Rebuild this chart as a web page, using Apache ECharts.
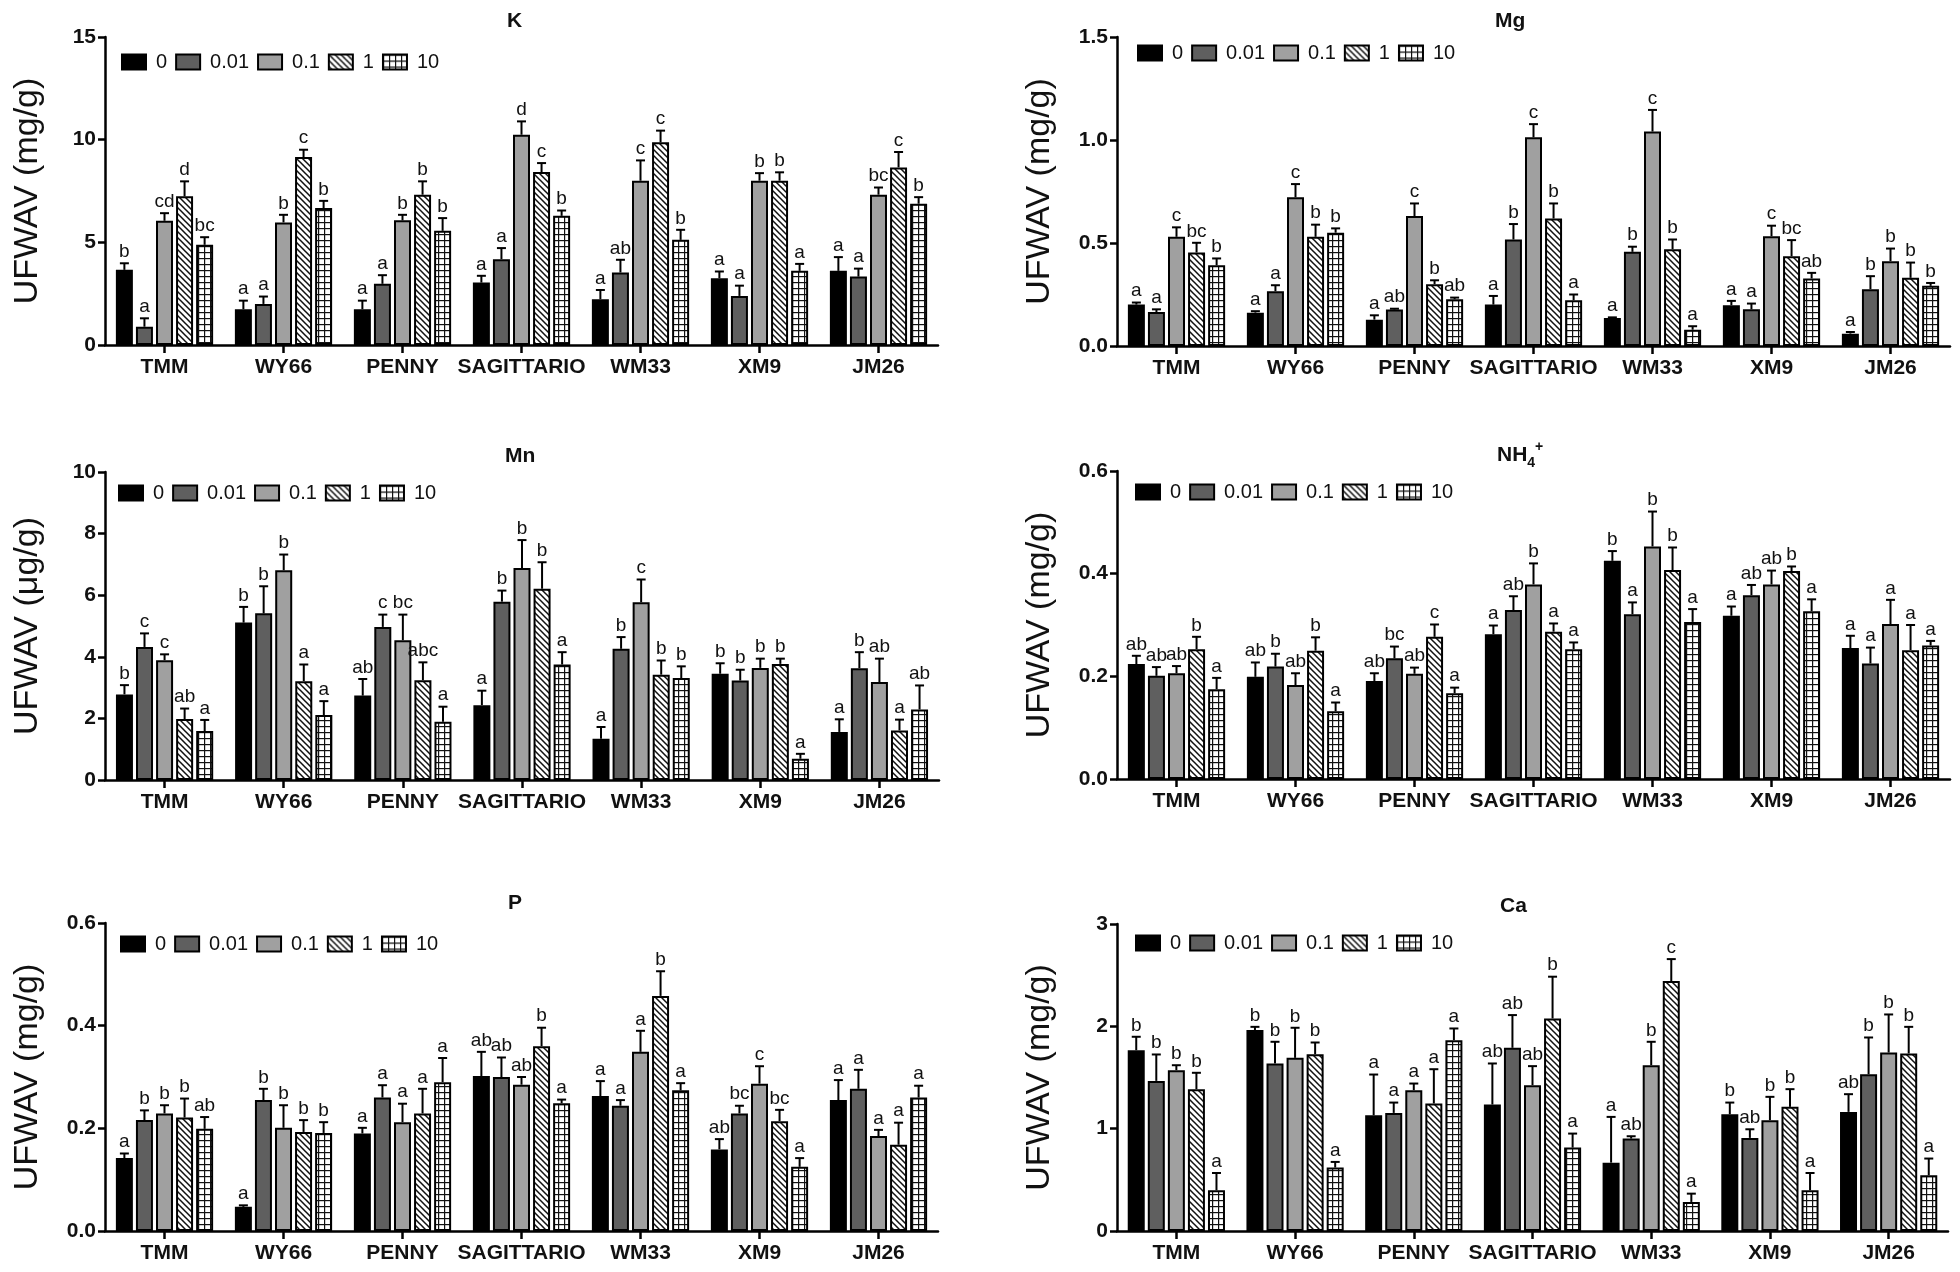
<!DOCTYPE html>
<html><head><meta charset="utf-8">
<script src="https://cdn.jsdelivr.net/npm/echarts@6/dist/echarts.min.js"></script>
<style>html,body{margin:0;padding:0;background:#fff}#c{width:1960px;height:1272px}</style>
</head><body><div id="c"></div><script>
const CULTIVARS = ['TMM','WY66','PENNY','SAGITTARIO','WM33','XM9','JM26'];
const CONCS = ['0','0.01','0.1','1','10'];

// rows = cultivars, columns = concentrations (0, 0.01, 0.1, 1, 10)
const K_MEAN = [[3.66,0.89,6.05,7.24,4.88],[1.74,2.0,5.97,9.15,6.67],[1.74,2.98,6.07,7.32,5.56],[3.04,4.18,10.24,8.42,6.29],[2.23,3.53,8.0,9.87,5.12],[3.25,2.39,8.0,8.0,3.61],[3.61,3.33,7.32,8.65,6.88]];
const K_SD   = [[0.32,0.41,0.37,0.73,0.37],[0.42,0.36,0.37,0.36,0.35],[0.42,0.42,0.27,0.65,0.62],[0.33,0.54,0.65,0.44,0.26],[0.45,0.62,0.99,0.57,0.49],[0.33,0.50,0.37,0.41,0.34],[0.67,0.39,0.35,0.75,0.32]];
const K_LET  = [['b','a','cd','d','bc'],['a','a','b','c','b'],['a','a','b','b','b'],['a','a','d','c','b'],['a','ab','c','c','b'],['a','a','b','b','a'],['a','a','bc','c','b']];

const MG_MEAN = [[0.201,0.165,0.530,0.454,0.392],[0.162,0.266,0.722,0.530,0.550],[0.128,0.177,0.631,0.300,0.227],[0.201,0.517,1.013,0.619,0.222],[0.136,0.457,1.041,0.470,0.079],[0.198,0.178,0.533,0.436,0.328],[0.060,0.276,0.412,0.331,0.292]];
const MG_SD   = [[0.010,0.013,0.046,0.047,0.033],[0.007,0.029,0.064,0.059,0.021],[0.021,0.004,0.061,0.019,0.008],[0.042,0.075,0.064,0.073,0.028],[0.003,0.025,0.105,0.047,0.017],[0.021,0.028,0.051,0.078,0.027],[0.008,0.063,0.061,0.074,0.014]];
const MG_LET  = [['a','a','c','bc','b'],['a','a','c','b','b'],['a','ab','c','b','ab'],['a','b','c','b','a'],['a','b','c','b','a'],['a','a','c','bc','ab'],['a','b','b','b','b']];

const MN_MEAN = [[2.78,4.32,3.89,1.98,1.59],[5.11,5.41,6.81,3.21,2.11],[2.74,4.97,4.54,3.24,1.89],[2.43,5.79,6.88,6.21,3.75],[1.34,4.26,5.77,3.42,3.31],[3.45,3.23,3.64,3.77,0.69],[1.56,3.63,3.18,1.61,2.29]];
const MN_SD   = [[0.30,0.44,0.19,0.34,0.36],[0.51,0.88,0.51,0.54,0.45],[0.54,0.40,0.83,0.58,0.49],[0.47,0.36,0.91,0.86,0.40],[0.38,0.38,0.74,0.46,0.38],[0.34,0.35,0.30,0.17,0.16],[0.41,0.52,0.76,0.35,0.78]];
const MN_LET  = [['b','c','c','ab','a'],['b','b','b','a','a'],['ab','c','bc','abc','a'],['a','b','b','b','a'],['a','b','c','b','b'],['b','b','b','b','a'],['a','b','ab','a','ab']];

const NH4_MEAN = [[0.224,0.201,0.206,0.253,0.175],[0.199,0.219,0.183,0.250,0.132],[0.191,0.235,0.205,0.277,0.167],[0.282,0.329,0.379,0.287,0.253],[0.425,0.321,0.453,0.407,0.306],[0.318,0.358,0.379,0.405,0.327],[0.255,0.225,0.302,0.251,0.260]];
const NH4_SD   = [[0.016,0.017,0.014,0.024,0.022],[0.028,0.025,0.023,0.026,0.017],[0.015,0.023,0.012,0.024,0.011],[0.017,0.027,0.041,0.016,0.013],[0.019,0.023,0.068,0.044,0.025],[0.018,0.020,0.027,0.009,0.023],[0.024,0.031,0.047,0.049,0.009]];
const NH4_LET  = [['ab','ab','ab','b','a'],['ab','b','ab','b','a'],['ab','bc','ab','c','a'],['a','ab','b','a','a'],['b','a','b','b','a'],['a','ab','ab','b','a'],['a','a','a','a','a']];

const P_MEAN = [[0.142,0.216,0.229,0.221,0.199],[0.047,0.255,0.201,0.193,0.191],[0.190,0.260,0.212,0.229,0.290],[0.302,0.300,0.285,0.360,0.249],[0.263,0.244,0.349,0.458,0.274],[0.159,0.229,0.287,0.214,0.125],[0.255,0.277,0.185,0.168,0.260]];
const P_SD   = [[0.009,0.019,0.016,0.037,0.023],[0.003,0.022,0.044,0.023,0.021],[0.011,0.024,0.036,0.048,0.047],[0.047,0.038,0.015,0.036,0.007],[0.029,0.011,0.041,0.048,0.014],[0.020,0.015,0.034,0.022,0.017],[0.039,0.037,0.012,0.043,0.023]];
const P_LET  = [['a','b','b','b','ab'],['a','b','b','b','b'],['a','a','a','a','a'],['ab','ab','ab','b','a'],['a','a','a','b','a'],['ab','bc','c','bc','a'],['a','a','a','a','a']];

const CA_MEAN = [[1.767,1.467,1.572,1.386,0.398],[1.963,1.637,1.692,1.728,0.620],[1.131,1.154,1.376,1.246,1.865],[1.236,1.790,1.425,2.077,0.815],[0.668,0.903,1.620,2.442,0.284],[1.141,0.910,1.083,1.213,0.398],[1.164,1.532,1.744,1.735,0.545]];
const CA_SD   = [[0.131,0.258,0.048,0.160,0.169],[0.032,0.212,0.294,0.114,0.055],[0.398,0.101,0.065,0.335,0.114],[0.401,0.320,0.186,0.408,0.137],[0.447,0.023,0.229,0.215,0.081],[0.114,0.084,0.228,0.173,0.169],[0.173,0.359,0.372,0.260,0.163]];
const CA_LET  = [['b','b','b','b','a'],['b','b','b','b','a'],['a','a','a','a','a'],['ab','ab','ab','b','a'],['a','ab','b','c','a'],['b','ab','b','b','a'],['ab','b','b','b','a']];

const FONT = '"Liberation Sans", Arial, sans-serif';

function makePattern(kind) {
  const c = document.createElement('canvas');
  c.width = 6; c.height = 6;
  const g = c.getContext('2d');
  g.fillStyle = '#fff'; g.fillRect(0, 0, 6, 6);
  g.strokeStyle = '#111'; g.fillStyle = '#111';
  if (kind === 'hatch') {
    g.lineWidth = 1.5;
    g.beginPath();
    g.moveTo(-1, -1); g.lineTo(7, 7);
    g.moveTo(-1, 5); g.lineTo(1, 7);
    g.moveTo(5, -1); g.lineTo(7, 1);
    g.stroke();
  } else {
    g.fillRect(0, 0, 6, 1.2);
    g.fillRect(0, 0, 1.2, 6);
  }
  return c;
}
const HATCH = makePattern('hatch');
const GRIDP = makePattern('grid');

const STYLES = [
  {color: '#000000', borderColor: '#000', borderWidth: 2},
  {color: '#5f5f5f', borderColor: '#000', borderWidth: 2},
  {color: '#a0a0a0', borderColor: '#000', borderWidth: 2},
  {color: {image: HATCH, repeat: 'repeat'}, borderColor: '#000', borderWidth: 2},
  {color: {image: GRIDP, repeat: 'repeat'}, borderColor: '#000', borderWidth: 2}
];

const BAR_W = 17, BAR_GAP = 0.18, PITCH = BAR_W * (1 + BAR_GAP);

const PANELS = [
  {title: 'K', mean: K_MEAN, sd: K_SD, let: K_LET, max: 15, interval: 5, dec: 0, unit: 'UFWAV (mg/g)',
   grid: {left: 105, top: 37, width: 833, height: 308}, legend: {left: 121, top: 52}, tpos: {left: 507, top: 8}},
  {title: 'Mg', mean: MG_MEAN, sd: MG_SD, let: MG_LET, max: 1.5, interval: 0.5, dec: 1, unit: 'UFWAV (mg/g)',
   grid: {left: 1117, top: 37, width: 833, height: 309}, legend: {left: 1137, top: 43}, tpos: {left: 1495, top: 8}},
  {title: 'Mn', mean: MN_MEAN, sd: MN_SD, let: MN_LET, max: 10, interval: 2, dec: 0, unit: 'UFWAV (μg/g)',
   grid: {left: 105, top: 472, width: 834, height: 308}, legend: {left: 118, top: 483}, tpos: {left: 505, top: 443}},
  {title: '{m|NH}{s|4}{p|+}', mean: NH4_MEAN, sd: NH4_SD, let: NH4_LET, max: 0.6, interval: 0.2, dec: 1, unit: 'UFWAV (mg/g)',
   grid: {left: 1117, top: 471, width: 833, height: 308}, legend: {left: 1135, top: 482}, tpos: {left: 1497, top: 440}},
  {title: 'P', mean: P_MEAN, sd: P_SD, let: P_LET, max: 0.6, interval: 0.2, dec: 1, unit: 'UFWAV (mg/g)',
   grid: {left: 105, top: 923, width: 833, height: 308}, legend: {left: 120, top: 934}, tpos: {left: 508, top: 890}},
  {title: 'Ca', mean: CA_MEAN, sd: CA_SD, let: CA_LET, max: 3, interval: 1, dec: 0, unit: 'UFWAV (mg/g)',
   grid: {left: 1117, top: 924, width: 831, height: 307}, legend: {left: 1135, top: 933}, tpos: {left: 1500, top: 893}}
];

const option = {
  backgroundColor: '#fff',
  animation: false,
  title: [], legend: [], grid: [], xAxis: [], yAxis: [], series: []
};

PANELS.forEach((P, p) => {
  option.title.push({
    text: P.title, left: P.tpos.left, top: P.tpos.top, padding: 0,
    textStyle: {fontSize: 21, fontWeight: 'bold', fontFamily: FONT, color: '#111', lineHeight: 26,
      rich: {
        m: {fontSize: 21, fontWeight: 'bold', fontFamily: FONT, color: '#111', lineHeight: 30},
        s: {fontSize: 14, fontWeight: 'bold', fontFamily: FONT, color: '#111', verticalAlign: 'bottom', lineHeight: 14},
        p: {fontSize: 14, fontWeight: 'bold', fontFamily: FONT, color: '#111', verticalAlign: 'top', lineHeight: 14}
      }}
  });
  option.legend.push({
    data: CONCS, left: P.legend.left, top: P.legend.top, orient: 'horizontal',
    itemWidth: 24, itemHeight: 15, itemGap: 8, selectedMode: false, icon: 'rect', padding: 0,
    textStyle: {fontSize: 20, fontFamily: FONT, color: '#111', lineHeight: 20, padding: [0, 0, 0, 5]}
  });
  option.grid.push(Object.assign({containLabel: false, outerBoundsMode: 'none'}, P.grid));
  option.xAxis.push({
    type: 'category', gridIndex: p, data: CULTIVARS,
    axisLine: {show: true, lineStyle: {color: '#000', width: 2.5}},
    axisTick: {show: true, alignWithLabel: true, length: 8, lineStyle: {color: '#000', width: 2.5}},
    axisLabel: {interval: 0, fontSize: 21, fontWeight: 'bold', fontFamily: FONT, color: '#111', margin: 12},
    splitLine: {show: false}
  });
  option.yAxis.push({
    type: 'value', gridIndex: p, min: 0, max: P.max, interval: P.interval,
    name: P.unit, nameLocation: 'middle', nameGap: 60,
    nameTextStyle: {fontSize: 34, fontFamily: FONT, color: '#111'},
    axisLine: {show: true, lineStyle: {color: '#000', width: 2.5}},
    axisTick: {show: true, length: 7, lineStyle: {color: '#000', width: 2.5}},
    axisLabel: {fontSize: 21, fontWeight: 'bold', fontFamily: FONT, color: '#111', margin: 9,
      formatter: v => v.toFixed(P.dec)},
    splitLine: {show: false}
  });
  CONCS.forEach((name, s) => {
    option.series.push({
      type: 'bar', name: name, xAxisIndex: p, yAxisIndex: p,
      data: CULTIVARS.map((c, i) => P.mean[i][s]),
      barWidth: BAR_W, barGap: (BAR_GAP * 100) + '%',
      itemStyle: STYLES[s], emphasis: {disabled: true}, silent: true
    });
  });
  const items = [], sIdx = [], lets = [];
  CULTIVARS.forEach((c, i) => {
    CONCS.forEach((n, s) => {
      items.push([i, P.mean[i][s], P.mean[i][s] + P.sd[i][s]]);
      sIdx.push(s); lets.push(P.let[i][s]);
    });
  });
  option.series.push({
    type: 'custom', xAxisIndex: p, yAxisIndex: p, data: items, z: 10, silent: true, clip: false,
    encode: {x: 0, y: [1, 2]},
    renderItem: function (params, api) {
      const k = params.dataIndex;
      const base = api.coord([api.value(0), api.value(1)]);
      const top = api.coord([api.value(0), api.value(2)]);
      const x = base[0] + (sIdx[k] - 2) * PITCH;
      return {
        type: 'group', children: [
          {type: 'line', shape: {x1: x, y1: base[1], x2: x, y2: top[1]}, style: {stroke: '#000', lineWidth: 2}},
          {type: 'line', shape: {x1: x - 4.5, y1: top[1], x2: x + 4.5, y2: top[1]}, style: {stroke: '#000', lineWidth: 2}},
          {type: 'text', x: x, y: top[1] - 2, style: {text: lets[k], align: 'center', verticalAlign: 'bottom',
            fontSize: 19, fontFamily: FONT, fill: '#111'}}
        ]
      };
    }
  });
});

const chart = echarts.init(document.getElementById('c'), null, {renderer: 'canvas'});
chart.setOption(option);
</script></body></html>
